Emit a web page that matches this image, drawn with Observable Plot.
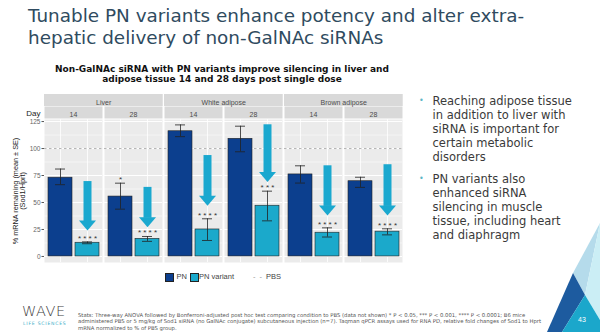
<!DOCTYPE html>
<html><head><meta charset="utf-8">
<script src="https://cdn.jsdelivr.net/npm/d3@7"></script>
<script src="https://cdn.jsdelivr.net/npm/@observablehq/plot@0.6"></script>
<style>
body{margin:0;background:#fff;}
#page{position:relative;width:600px;height:332px;overflow:hidden;font-family:"DejaVu Sans",Verdana,sans-serif;background:#fff;}
.abs{position:absolute;white-space:nowrap;}
#title{left:28px;top:5px;font-size:18.4px;line-height:22px;color:#2f4b60;}
#sub{left:0;width:444px;top:64px;text-align:center;font-size:9px;line-height:10px;font-weight:bold;color:#111;}
#bul{left:419px;top:93.7px;font-size:11.5px;line-height:14px;color:#3a3a3a;}
#bul .item{position:relative;padding-left:13.5px;}
#bul .item + .item{margin-top:8.3px;}
#bul .dot{position:absolute;left:0;top:0;color:#5db6c6;font-size:8px;}
#legend{left:0;top:272px;font-family:"Liberation Sans",Arial,sans-serif;font-size:7.5px;color:#444;}
.sw{position:absolute;width:7px;height:7px;border:0.6px solid #222;top:1px;}
.lt{position:absolute;top:0;line-height:9px;}
#wave{left:22px;top:303px;font-size:14.5px;letter-spacing:0.5px;color:#3f3f3f;font-weight:300;}
#ls{left:23px;top:320.5px;font-size:4.6px;letter-spacing:0.75px;color:#3fb0c9;}
#stats{left:78px;top:312px;font-size:5.3px;line-height:6.4px;color:#555;}
#pg{left:578px;top:316px;font-size:7px;color:#fff;font-family:"Liberation Sans",Arial,sans-serif;}
</style></head><body><div id="page">
<svg class="abs" style="left:0;top:0" width="600" height="332">
  <polygon points="600,223 573,273 585,295" fill="#b5dbeb"/>
  <polygon points="600,223 585,295 600,320" fill="#cbeef5"/>
  <polygon points="573,273 585,295 562,332 547,332" fill="#1d5b9f"/>
  <polygon points="585,295 600,320 600,332 562,332" fill="#1ba7cb"/>
</svg>
<div id="title" class="abs">Tunable PN variants enhance potency and alter extra-<br>hepatic delivery of non-GalNAc siRNAs</div>
<div id="sub" class="abs">Non-GalNAc siRNA with PN variants improve silencing in liver and<br>adipose tissue 14 and 28 days post single dose</div>
<div id="bul" class="abs">
  <div class="item"><span class="dot">•</span>Reaching adipose tissue<br>in addition to liver with<br>siRNA is important for<br>certain metabolic<br>disorders</div>
  <div class="item"><span class="dot">•</span>PN variants also<br>enhanced siRNA<br>silencing in muscle<br>tissue, including heart<br>and diaphragm</div>
</div>
<div id="legend" class="abs">
  <div class="sw" style="left:165px;background:#0c3f8e"></div><div class="lt" style="left:176.5px">PN</div>
  <div class="sw" style="left:189.5px;background:#1ba9cb"></div><div class="lt" style="left:199px">PN variant</div>
  <div class="lt" style="left:253px;color:#999;letter-spacing:1px">- -</div><div class="lt" style="left:266px">PBS</div>
</div>
<div id="wave" class="abs">WAVE</div>
<div id="ls" class="abs">LIFE SCIENCES</div>
<div id="stats" class="abs">Stats: Three-way ANOVA followed by Bonferroni-adjusted post hoc test comparing condition to PBS (data not shown) * P &lt; 0.05, *** P &lt; 0.001, **** P &lt; 0.0001; B6 mice<br>administered PBS or 5 mg/kg of Sod1 siRNA (no GalNAc conjugate) subcutaneous injection (n=7). Taqman qPCR assays used for RNA PD, relative fold changes of Sod1 to Hprt<br>mRNA normalized to % of PBS group.</div>
<div id="pg" class="abs">43</div>
</div>
<script>
// ---- data ----
const tissues = ["Liver", "White adipose", "Brown adipose"];
const days = ["14", "28"];
const series = ["PN", "PN variant"];
const pnMean = [73, 55.5, 116, 109, 76, 69.7];
const pnLo   = [66.5, 43.8, 111, 97, 68, 64];
const pnHi   = [81, 67.9, 121.9, 120.7, 84, 73.4];
const pnStars = ["", "*", "", "", "", ""];
const varMean = [12.7, 16.3, 25, 47, 22, 23];
const varLo   = [11.8, 14, 14.8, 33, 18, 20];
const varHi   = [13.5, 18.5, 34.9, 60.5, 26.5, 25.6];
const varStars = ["****", "****", "****", "***", "****", "****"];
const arrowStart = [69.4, 64, 93.5, 122, 84, 85];
const arrowTip   = [24, 27, 47, 69, 38, 38];
const yTicks = [0, 25, 50, 75, 100, 125];
const yMinor = [12.5, 37.5, 62.5, 87.5, 112.5];
const pbsLevel = [100];

// ---- tables ----
const panels = [];
tissues.forEach(t => days.forEach(d => panels.push({key: t + "|" + d, tissue: t, day: d})));
const keys = panels.map(p => p.key);
const rows = [];
panels.forEach((p, i) => {
  rows.push({key: p.key, series: series[0], mean: pnMean[i], lo: pnLo[i], hi: pnHi[i], stars: pnStars[i]});
  rows.push({key: p.key, series: series[1], mean: varMean[i], lo: varLo[i], hi: varHi[i], stars: varStars[i]});
});
const arrows = panels.map((p, i) => ({key: p.key, start: arrowStart[i], tip: arrowTip[i]}));
const tissueFirst = panels.filter(p => p.day === days[0]);

// ---- layout ----
const W = 410, H = 265, mL = 42, mR = 6, mT = 119, mB = 3;
const fxPad = 0.04;
const fxStep = (W - mL - mR) / (keys.length - fxPad);
const fxGap = fxStep * fxPad;
const arrowColor = "#1aa8cf";
const head = {draw(ctx) { ctx.moveTo(0, 0); ctx.lineTo(-8.5, -10); ctx.lineTo(8.5, -10); ctx.closePath(); }};
const txt = "#4d4d4d";

const chart = Plot.plot({
  width: W, height: H, marginTop: mT, marginBottom: mB, marginLeft: mL, marginRight: mR,
  style: {fontFamily: "'Liberation Sans', Arial, sans-serif", fontSize: "7px", background: "transparent", overflow: "visible"},
  fx: {domain: keys, axis: null, paddingInner: fxPad, paddingOuter: 0, label: null},
  x: {domain: series, axis: null, paddingInner: 0.125, paddingOuter: 0.1},
  y: {domain: [-5.6, 126.9]},
  color: {domain: series, range: ["#0c3f8e", "#1ba9cb"]},
  marks: [
    Plot.frame({fill: "#ebebeb"}),
    Plot.frame({fill: "#d9d9d9", insetTop: -13, insetBottom: 144}),
    Plot.rect(tissueFirst, {fx: "key", fill: "#d9d9d9", insetTop: -25, insetBottom: 156, insetRight: -fxStep}),
    Plot.text(panels, {fx: "key", text: "day", frameAnchor: "top", dy: -7, fontSize: 7, fill: txt}),
    Plot.text(tissueFirst, {fx: "key", text: "tissue", frameAnchor: "top-right", textAnchor: "middle", dx: fxGap / 2, dy: -19, fontSize: 7, fill: txt}),
    Plot.text([{key: keys[0], t: "Day"}], {fx: "key", text: "t", frameAnchor: "top-left", textAnchor: "end", dx: -4, dy: -9, fontSize: 8, fill: "#222"}),
    Plot.text([{key: keys[0], t: "% mRNA remaining (mean ± SE)\n(Sod1/Hprt)"}], {fx: "key", text: "t", frameAnchor: "left", textAnchor: "middle", rotate: -90, dx: -25.5, fontSize: 7.3, lineHeight: 1.05, fill: "#222"}),
    Plot.gridY({ticks: yMinor, stroke: "#fff", strokeOpacity: 1, strokeWidth: 0.5}),
    Plot.gridY({ticks: yTicks, stroke: "#fff", strokeOpacity: 1, strokeWidth: 1}),
    Plot.gridX({stroke: "#fff", strokeOpacity: 1, strokeWidth: 0.8}),
    Plot.axisY({ticks: yTicks, tickSize: 2.5, tickPadding: 1.5, fontSize: 6.5, fill: "#666", stroke: "#555", label: null}),
    Plot.ruleY(pbsLevel, {stroke: "#a0a0a0", strokeWidth: 0.8, strokeDasharray: "2.5,2.5"}),
    Plot.barY(rows, {fx: "key", x: "series", y: "mean", fill: "series", stroke: "#222", strokeWidth: 0.6}),
    Plot.ruleX(rows, {fx: "key", x: "series", y1: "lo", y2: "hi", stroke: "#222", strokeWidth: 0.8}),
    Plot.tickY(rows, {fx: "key", x: "series", y: "hi", insetLeft: 7, insetRight: 7, stroke: "#222", strokeWidth: 0.8}),
    Plot.tickY(rows, {fx: "key", x: "series", y: "lo", insetLeft: 7, insetRight: 7, stroke: "#222", strokeWidth: 0.8}),
    Plot.text(rows, {fx: "key", x: "series", y: "hi", text: d => d.stars.split("").join(" "), lineAnchor: "bottom", dy: -1, fontSize: 8, fill: "#333"}),
    Plot.ruleX(arrows, {fx: "key", x: () => series[1], y1: "start", y2: "tip", insetBottom: 9, stroke: arrowColor, strokeWidth: 8}),
    Plot.dot(arrows, {fx: "key", x: () => series[1], y: "tip", symbol: head, r: 5, fill: arrowColor, stroke: null})
  ]
});
chart.style.position = "absolute";
chart.style.left = "0px";
chart.style.top = "0px";
document.getElementById("page").insertBefore(chart, document.getElementById("title"));
</script>
</body></html>
